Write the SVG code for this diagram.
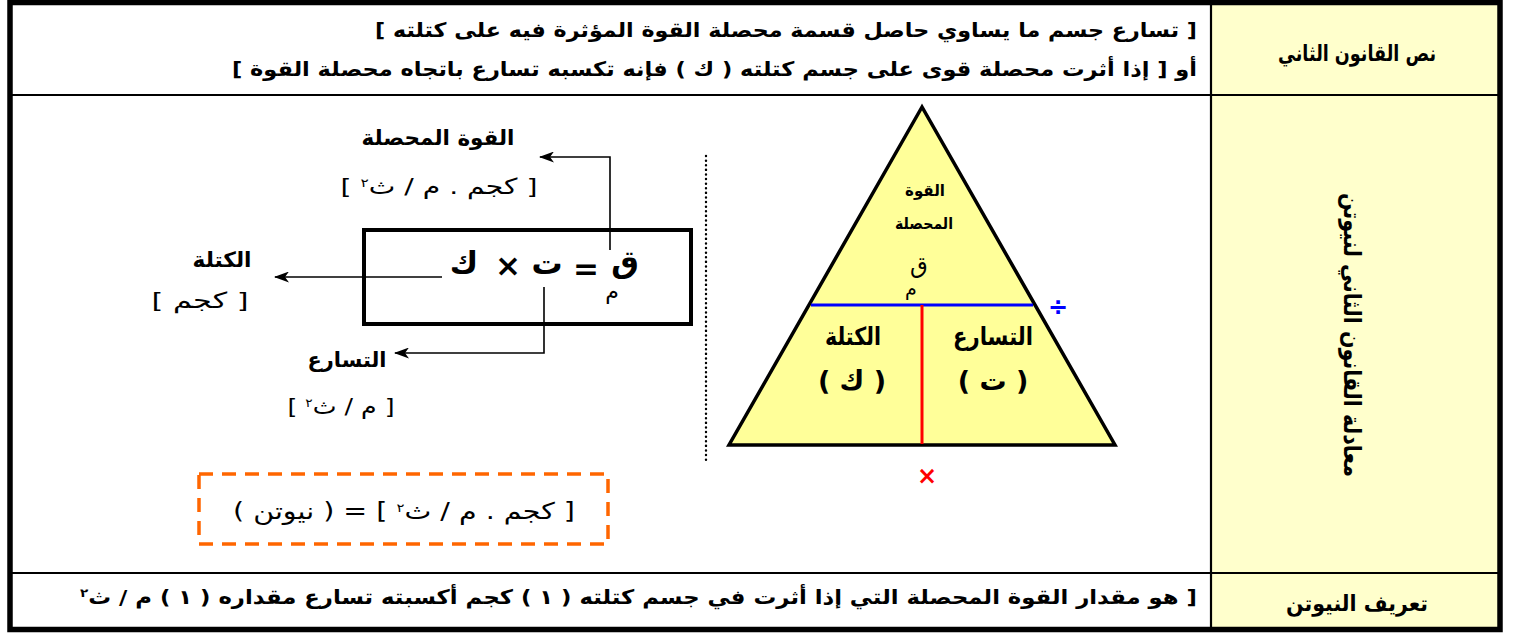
<svg xmlns="http://www.w3.org/2000/svg" width="1514" height="634" viewBox="0 0 1514 634">
<style>
text{font-family:"DejaVu Sans","Noto Sans",sans-serif;fill:#000;direction:rtl;text-anchor:middle}
.b{font-weight:bold}
.row{font-size:20px;font-weight:bold}
.hd{font-size:22px;font-weight:bold}
.lbl{font-size:21px;font-weight:bold}
.unit{font-size:22px}
.eq{font-size:31px;font-weight:bold}
.line{fill:none;stroke:#000;stroke-width:1.6}
.sup{font-size:12px}
</style>
<defs>
<marker id="ah" markerUnits="userSpaceOnUse" markerWidth="15" markerHeight="11" viewBox="0 0 15 11" refX="14" refY="5.5" orient="auto">
<path d="M0,0 L15,5.5 L0,11 L4,5.5 z" fill="#000"/>
</marker>
</defs>
<rect width="1514" height="634" fill="#fff"/>
<g id="table">
<rect x="1212" y="5" width="286" height="623" fill="#FFFFCC"/>
<line x1="10" y1="95" x2="1500" y2="95" stroke="#000" stroke-width="2.2"/>
<line x1="10" y1="573" x2="1500" y2="573" stroke="#000" stroke-width="2.2"/>
<line x1="1211" y1="3" x2="1211" y2="630" stroke="#000" stroke-width="2.2"/>
<rect x="10" y="2.5" width="1490" height="627" fill="none" stroke="#000" stroke-width="5.5"/>
</g>
<g id="row1">
<text class="hd" x="1357" y="61" textLength="158" lengthAdjust="spacingAndGlyphs">نص القانون الثاني</text>
<text class="row" x="786" y="37" textLength="822" lengthAdjust="spacingAndGlyphs">[ تسارع جسم ما يساوي حاصل قسمة محصلة القوة المؤثرة فيه على كتلته ]</text>
<text class="row" x="714.5" y="76" textLength="965" lengthAdjust="spacingAndGlyphs">أو [ إذا أثرت محصلة قوى على جسم كتلته ( ك ) فإنه تكسبه تسارع باتجاه محصلة القوة ]</text>
</g>
<g id="row3">
<text class="hd" x="1357" y="611" font-size="23" textLength="142" lengthAdjust="spacingAndGlyphs">تعريف النيوتن</text>
<text class="row" x="638.5" y="604" textLength="1117" lengthAdjust="spacingAndGlyphs">[ هو مقدار القوة المحصلة التي إذا أثرت في جسم كتلته ( ١ ) كجم أكسبته تسارع مقداره ( ١ ) م / ث<tspan class="sup" baseline-shift="super">٢</tspan></text>
</g>
<g id="side-label">
<text class="b" font-size="24" transform="translate(1352,335) rotate(90)" x="0" y="8" textLength="284" lengthAdjust="spacingAndGlyphs">معادلة القانون الثاني لنيوتن</text>
</g>
<g id="equation">
<rect x="364" y="230" width="327" height="94" fill="none" stroke="#000" stroke-width="4"/>
<text class="eq" x="464" y="274">ك</text>
<text class="eq" x="508" y="276">×</text>
<text class="eq" x="547" y="274">ت</text>
<text class="eq" x="586" y="279" font-size="36">=</text>
<text class="eq" x="625" y="272">ق</text>
<text x="612" y="299" font-size="22">م</text>
</g>
<g id="label-force">
<text class="lbl" x="438" y="145" textLength="153" lengthAdjust="spacingAndGlyphs">القوة المحصلة</text>
<text class="unit" x="439" y="194" textLength="197" lengthAdjust="spacingAndGlyphs">[ كجم . م / ث<tspan class="sup" baseline-shift="super">٢</tspan> ]</text>
</g>
<g id="label-mass">
<text class="lbl" x="222" y="267" textLength="59" lengthAdjust="spacingAndGlyphs">الكتلة</text>
<text class="unit" x="200" y="308" textLength="97" lengthAdjust="spacingAndGlyphs">[ كجم ]</text>
</g>
<g id="label-accel">
<text class="lbl" x="347" y="367" textLength="79" lengthAdjust="spacingAndGlyphs">التسارع</text>
<text class="unit" x="341" y="414" textLength="107" lengthAdjust="spacingAndGlyphs">[ م / ث<tspan class="sup" baseline-shift="super">٢</tspan> ]</text>
</g>
<g id="connectors">
<path class="line" d="M610,250 V157 H540" marker-end="url(#ah)"/>
<path class="line" d="M442,277 H275" marker-end="url(#ah)"/>
<path class="line" d="M544,287 V353 H395" marker-end="url(#ah)"/>
</g>
<line id="divider" x1="706" y1="156" x2="706" y2="463" stroke="#000" stroke-width="2.4" stroke-linecap="round" stroke-dasharray="0.1 4.5"/>
<g id="triangle">
<polygon points="922,107 729,445 1115,445" fill="#FFFF99" stroke="#000" stroke-width="3.5" stroke-linejoin="miter"/>
<line x1="811" y1="305" x2="1033" y2="305" stroke="#0000FF" stroke-width="3"/>
<line x1="922" y1="305" x2="922" y2="444" stroke="#FF0000" stroke-width="3"/>
<text class="b" x="925" y="196" font-size="16" textLength="40" lengthAdjust="spacingAndGlyphs">القوة</text>
<text class="b" x="924" y="229" font-size="16" textLength="58" lengthAdjust="spacingAndGlyphs">المحصلة</text>
<text x="919" y="273" font-size="23">ق</text>
<text x="911" y="295" font-size="19">م</text>
<text class="b" x="853" y="345" font-size="25" textLength="56" lengthAdjust="spacingAndGlyphs">الكتلة</text>
<text class="b" x="852" y="390" font-size="27">( ك )</text>
<text class="b" x="993" y="345" font-size="25" textLength="80" lengthAdjust="spacingAndGlyphs">التسارع</text>
<text class="b" x="993" y="390" font-size="27">( ت )</text>
<text x="1058" y="315" font-size="24" style="fill:#0000FF;font-weight:bold">÷</text>
<text x="927" y="484" font-size="24" style="fill:#FF0000;font-weight:bold">×</text>
</g>
<g id="newton-unit">
<rect x="199" y="474" width="409" height="70" fill="none" stroke="#FF6600" stroke-width="3.5" stroke-dasharray="14 9"/>
<text x="404" y="519" font-size="23" textLength="342" lengthAdjust="spacingAndGlyphs">[ كجم . م / ث<tspan class="sup" baseline-shift="super">٢</tspan> ] = ( نيوتن )</text>
</g>
</svg>
